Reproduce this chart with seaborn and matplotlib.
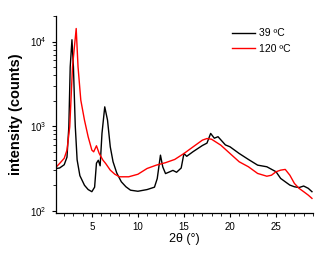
import numpy as np
import pandas as pd
import matplotlib
matplotlib.use("Agg")
import matplotlib.pyplot as plt
import seaborn as sns
from matplotlib.ticker import LogLocator, MultipleLocator, NullFormatter

# 39 ºC pattern (2theta, counts)
x_39 = [1.14, 1.5, 2.0, 2.3, 2.5, 2.65, 2.84, 3.0, 3.2, 3.4, 3.7, 4.2, 4.6, 5.0,
        5.3, 5.5, 5.7, 5.9, 6.1, 6.4, 6.7, 7.0, 7.3, 7.7, 8.2, 8.7, 9.2, 10.0,
        11.0, 11.8, 12.1, 12.45, 12.7, 13.0, 13.5, 13.8, 14.2, 14.7, 15.0, 15.3,
        16.0, 17.0, 17.5, 17.9, 18.3, 18.7, 19.5, 20.0, 21.0, 22.0, 23.0, 24.0,
        25.0, 25.5, 26.0, 26.5, 27.0, 27.5, 28.0, 28.5, 28.9]
y_39 = [316, 320, 350, 430, 980, 5000, 10500, 5000, 1000, 400, 260, 200, 178, 168,
        190, 365, 395, 340, 820, 1690, 1180, 570, 380, 280, 220, 192, 175, 170,
        178, 190, 240, 454, 330, 275, 290, 300, 285, 320, 475, 440,
        500, 590, 630, 820, 720, 750, 600, 570, 475, 404, 346, 331,
        289, 241, 220, 201, 192, 188, 196, 184, 168]

# 120 ºC pattern
x_120 = [1.14, 1.5, 2.0, 2.3, 2.6, 2.9, 3.3, 3.5, 3.8, 4.2, 4.6, 5.0, 5.2, 5.5,
         5.8, 6.2, 6.5, 7.0, 7.5, 8.0, 9.0, 10.0, 11.0, 12.0, 13.0, 14.0, 15.0,
         16.0, 17.0, 17.5, 18.0, 19.0, 20.0, 21.0, 22.0, 23.0, 24.0, 24.5, 25.0,
         25.5, 26.0, 26.5, 27.0, 27.5, 28.0, 28.5, 28.9]
y_120 = [330, 362, 417, 521, 982, 5030, 14250, 5030, 2030, 1177, 748, 521, 497, 586,
         475, 397, 362, 302, 270, 252, 252, 270, 316, 346, 370, 404, 475,
         570, 683, 714, 700, 596, 475, 379, 331, 276, 256, 263, 289,
         302, 308, 263, 210, 184, 168, 153, 140]

labels = ["39 ºC", "120 ºC"]

df = pd.concat([
    pd.DataFrame({"x": x_39, "y": y_39, "T": labels[0]}),
    pd.DataFrame({"x": x_120, "y": y_120, "T": labels[1]}),
])

plt.rcParams["font.family"] = ["Liberation Sans", "DejaVu Sans"]
fig = plt.figure(figsize=(3.29, 2.63), dpi=100)
ax = fig.add_axes([0.170, 0.190, 0.781, 0.749])

sns.lineplot(data=df, x="x", y="y", hue="T", palette=["black", "red"],
             sort=False, estimator=None, linewidth=1.0, ax=ax)

ax.set_yscale("log")
ax.set_xlim(1.1, 29)
ax.set_ylim(94, 20000)
ax.xaxis.set_major_locator(MultipleLocator(5))
ax.xaxis.set_minor_locator(MultipleLocator(1))
ax.yaxis.set_major_locator(LogLocator(base=10))
ax.yaxis.set_minor_locator(LogLocator(base=10, subs=np.arange(2, 10)))
ax.yaxis.set_minor_formatter(NullFormatter())
ax.tick_params(which="major", direction="out", length=3, width=0.8, labelsize=7)
ax.tick_params(which="minor", direction="out", length=2, width=0.6)
for s in ["top", "right"]:
    ax.spines[s].set_visible(False)
for s in ["left", "bottom"]:
    ax.spines[s].set_linewidth(0.9)

ax.set_xlabel("2θ (°)", fontsize=9, labelpad=1)
ax.set_ylabel("intensity (counts)", fontsize=10.5, fontweight="bold", labelpad=5)
ax.legend(frameon=False, fontsize=7.5, loc="upper right",
          bbox_to_anchor=(0.95, 0.985), handlelength=2.2, handletextpad=0.4,
          labelspacing=0.55)

fig.savefig("out.png", dpi=100)
